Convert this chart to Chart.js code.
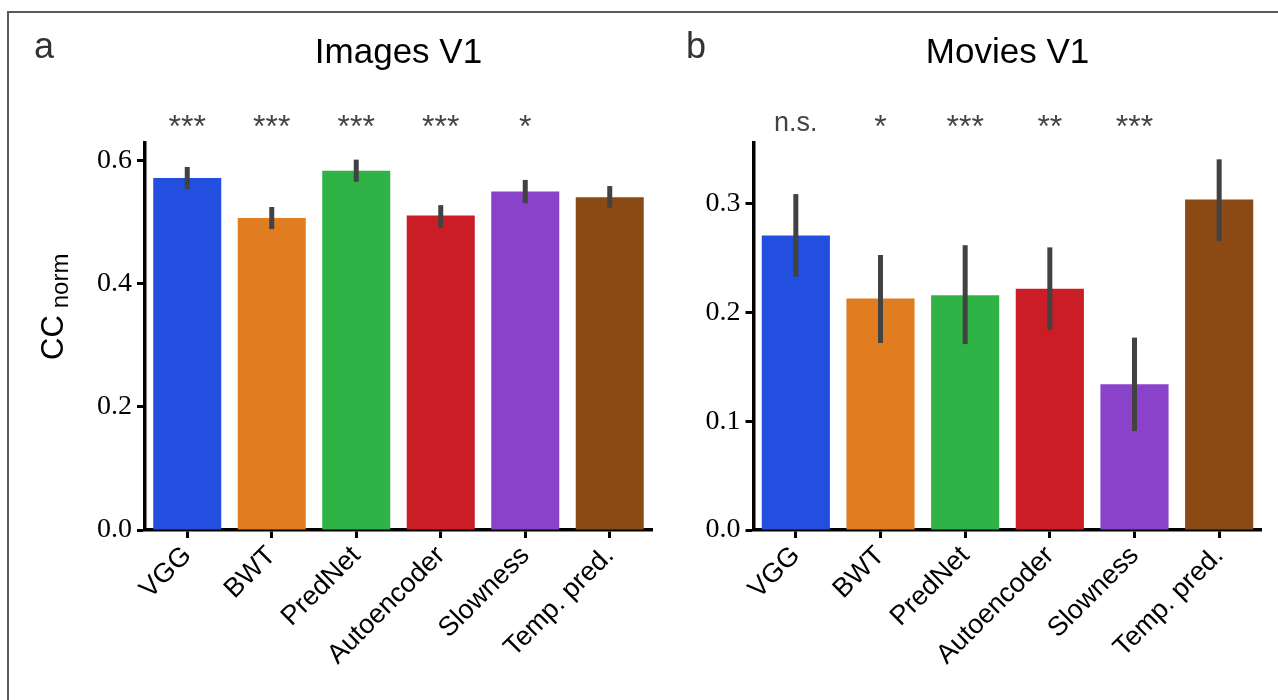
<!DOCTYPE html>
<html>
<head>
<meta charset="utf-8">
<script src="https://cdn.jsdelivr.net/npm/chart.js@4.4.0/dist/chart.umd.min.js"></script>
<style>
html, body { margin: 0; padding: 0; background: #fff; }
#frame { position: relative; width: 1278px; height: 700px; overflow: hidden; }
canvas { position: absolute; top: 0; }
#imagesChart { left: 0; }
#moviesChart { left: 655px; }
#border { position: absolute; left: 7px; top: 11px; width: 1300px; height: 720px;
          border-left: 2px solid #5a5a5a; border-top: 2px solid #5a5a5a; }
</style>
</head>
<body>
<div id="frame">
  <canvas id="imagesChart" width="655" height="700"></canvas>
  <canvas id="moviesChart" width="623" height="700"></canvas>
  <div id="border"></div>
</div>
<script>
// models on the x axis (same for both panels)
const models = ['VGG', 'BWT', 'PredNet', 'Autoencoder', 'Slowness', 'Temp. pred.'];
const barColors = ['#224fdf', '#df7d20', '#30b346', '#cb1d25', '#8a42cb', '#8b4a14'];

// panel a: Images V1
const imagesMean = [0.572, 0.507, 0.584, 0.511, 0.550, 0.541];
const imagesLow  = [0.554, 0.489, 0.566, 0.491, 0.531, 0.524];
const imagesHigh = [0.590, 0.525, 0.602, 0.528, 0.569, 0.559];
const imagesSig  = ['***', '***', '***', '***', '*', ''];
const imagesTicks = [0, 0.2, 0.4, 0.6];

// panel b: Movies V1
const moviesMean = [0.271, 0.213, 0.216, 0.222, 0.134, 0.304];
const moviesLow  = [0.233, 0.172, 0.171, 0.184, 0.091, 0.266];
const moviesHigh = [0.309, 0.253, 0.262, 0.260, 0.177, 0.341];
const moviesSig  = ['n.s.', '*', '***', '**', '***', ''];
const moviesTicks = [0, 0.1, 0.2, 0.3];

// error bars, titles, panel letters, significance marks, y label
const panelDecor = {
    id: 'panelDecor',
    afterDatasetsDraw(chart, args, opts) {
        const ctx = chart.ctx;
        const yScale = chart.scales.y;
        const meta = chart.getDatasetMeta(0);
        ctx.save();
        ctx.strokeStyle = '#424242';
        ctx.lineWidth = 5;
        meta.data.forEach((bar, i) => {
            ctx.beginPath();
            ctx.moveTo(bar.x, yScale.getPixelForValue(opts.low[i]));
            ctx.lineTo(bar.x, yScale.getPixelForValue(opts.high[i]));
            ctx.stroke();
        });
        ctx.restore();
    },
    afterDraw(chart, args, opts) {
        const ctx = chart.ctx;
        const area = chart.chartArea;
        const meta = chart.getDatasetMeta(0);
        ctx.save();
        ctx.textBaseline = 'alphabetic';

        ctx.fillStyle = '#000';
        ctx.font = '35px "Liberation Sans"';
        ctx.textAlign = 'center';
        ctx.fillText(opts.title, (area.left + area.right) / 2, 63);

        ctx.fillStyle = '#333';
        ctx.font = '36px "Liberation Sans"';
        ctx.textAlign = 'left';
        ctx.fillText(opts.letter, opts.letterX, 58);

        ctx.fillStyle = '#444';
        ctx.textAlign = 'center';
        opts.sig.forEach((s, i) => {
            if (!s) return;
            if (s.includes('*')) {
                ctx.font = '32px "Liberation Sans"';
                ctx.fillText(s, meta.data[i].x, 137);
            } else {
                ctx.font = '27px "Liberation Sans"';
                ctx.fillText(s, meta.data[i].x, 131);
            }
        });

        if (opts.yLabel) {
            ctx.fillStyle = '#000';
            ctx.translate(63, 360);
            ctx.rotate(-Math.PI / 2);
            ctx.textAlign = 'left';
            ctx.font = '31px "Liberation Sans"';
            ctx.fillText('CC', 0, 0);
            const w = ctx.measureText('CC').width;
            ctx.font = '24px "Liberation Sans"';
            ctx.fillText('norm', w + 7, 5);
        }
        ctx.restore();
    }
};

function makeChart(id, values, low, high, sig, ticks, yMax, yWidth, rightPad, title, letter, letterX, yLabel) {
    const ctx = document.getElementById(id).getContext('2d');
    return new Chart(ctx, {
        type: 'bar',
        data: {
            labels: models,
            datasets: [{
                data: values,
                backgroundColor: barColors,
                borderWidth: 0,
                categoryPercentage: 1.0,
                barPercentage: 0.805
            }]
        },
        options: {
            responsive: false,
            devicePixelRatio: 1,
            animation: false,
            layout: { padding: { top: 143, left: 0, right: rightPad, bottom: 0 } },
            plugins: {
                legend: { display: false },
                tooltip: { enabled: false },
                panelDecor: { low: low, high: high, sig: sig, title: title, letter: letter, letterX: letterX, yLabel: yLabel }
            },
            scales: {
                x: {
                    offset: true,
                    grid: { display: true, offset: false, drawOnChartArea: false, drawTicks: true,
                            tickLength: 8, tickWidth: 3, tickColor: '#000' },
                    border: { display: true, color: '#000', width: 3.5 },
                    ticks: {
                        color: '#000',
                        font: { family: 'Liberation Sans', size: 27 },
                        minRotation: 45, maxRotation: 45,
                        padding: 2
                    },
                    afterFit: (scale) => { scale.height = 170; }
                },
                y: {
                    min: 0,
                    max: yMax,
                    grid: { display: true, drawOnChartArea: false, drawTicks: true,
                            tickLength: 8, tickWidth: 3, tickColor: '#000' },
                    border: { display: true, color: '#000', width: 3.5 },
                    ticks: {
                        color: '#000',
                        font: { family: 'Liberation Serif', size: 28 },
                        padding: 5,
                        callback: (v) => Number(v).toFixed(1)
                    },
                    afterBuildTicks: (scale) => { scale.ticks = ticks.map(v => ({ value: v })); },
                    afterFit: (scale) => { scale.width = yWidth; }
                }
            }
        },
        plugins: [panelDecor]
    });
}

makeChart('imagesChart', imagesMean, imagesLow, imagesHigh, imagesSig, imagesTicks,
          0.629, 145, 3, 'Images V1', 'a', 34, true);
makeChart('moviesChart', moviesMean, moviesLow, moviesHigh, moviesSig, moviesTicks,
          0.356, 98.5, 16.5, 'Movies V1', 'b', 31, false);
</script>
</body>
</html>
